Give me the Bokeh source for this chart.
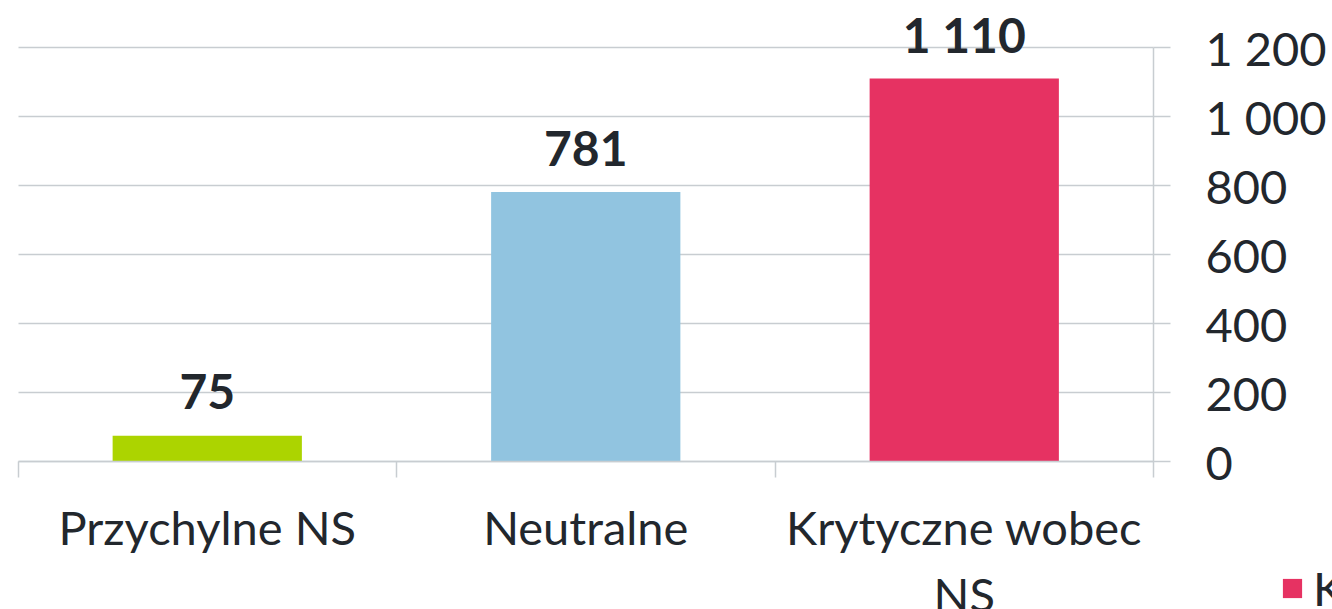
from bokeh.plotting import figure
from bokeh.models import (Range1d, LinearAxis, FixedTicker, CustomJSTickFormatter,
                          ColumnDataSource, Legend, LegendItem)
from bokeh.core.properties import value
from bokeh.embed import file_html
from bokeh.resources import INLINE

# ---- data ----
categories = ["Przychylne NS", "Neutralne", "Krytyczne wobec NS"]
display_labels = ["Przychylne NS", "Neutralne", "Krytyczne wobec\nNS"]
values = [75, 781, 1110]
value_labels = ["75", "781", "1 110"]
bar_colors = ["#acd400", "#91c4e0", "#e63262"]
y_ticks = [0, 200, 400, 600, 800, 1000, 1200]
legend_label = "Krytyczne wobec NS"

FONT = "Lato"
TEXT = "#22272d"
GRID = "#c8cdd1"
FS = "47px"

# ---- layout (pixels) ----
W, H = 1332, 609
PLOT_L, PLOT_R = 17.5, 1153.0        # category area in canvas px
Y0_PX, YMAX_PX = 461.0, 47.0          # value 0 and top tick in canvas px

n = len(categories)
cat_px = (PLOT_R - PLOT_L) / n
x_start = -PLOT_L / cat_px
x_end = n + (W - PLOT_R) / cat_px
ppu = (Y0_PX - YMAX_PX) / y_ticks[-1]
y_end = y_ticks[-1] + YMAX_PX / ppu
y_start = -(H - Y0_PX) / ppu

centers = [i + 0.5 for i in range(n)]
bounds_x = [float(i) for i in range(n + 1)]

p = figure(width=W, height=H, x_range=Range1d(x_start, x_end), y_range=Range1d(y_start, y_end),
           output_backend="svg", toolbar_location=None,
           min_border=0, y_axis_location=None, x_axis_location=None)
p.outline_line_color = None
p.background_fill_color = "white"
p.border_fill_color = "white"

src = ColumnDataSource(dict(x=centers, val=values, col=bar_colors, vlab=value_labels, cat=categories))

bars = p.vbar(x="x", top="val", bottom=0, width=0.5, fill_color="col", line_color=None, source=src)

# gridlines
p.xgrid.grid_line_color = None
p.ygrid.ticker = FixedTicker(ticks=y_ticks)
p.ygrid.grid_line_color = GRID
p.ygrid.grid_line_width = 1.5
p.ygrid.cross_bounds = (bounds_x[0], bounds_x[-1])

# right value axis, fixed at the right edge of the category area
ax = LinearAxis(ticker=FixedTicker(ticks=y_ticks), bounds=(y_ticks[0], y_ticks[-1]), fixed_location=bounds_x[-1])
ax.formatter = CustomJSTickFormatter(code="return tick.toFixed(0).replace(/\\B(?=(\\d{3})+(?!\\d))/g, ' ');")
ax.axis_line_color = GRID
ax.axis_line_width = 1.5
ax.major_tick_line_color = GRID
ax.major_tick_line_width = 1.5
ax.major_tick_out = 17
ax.major_tick_in = 0
ax.minor_tick_line_color = None
ax.major_label_standoff = 35
ax.major_label_text_font = FONT
ax.major_label_text_font_size = FS
ax.major_label_text_color = TEXT
p.add_layout(ax, "right")

# category axis: baseline + boundary ticks
bx = LinearAxis(ticker=FixedTicker(ticks=bounds_x), bounds=(bounds_x[0], bounds_x[-1]), fixed_location=0)
bx.axis_line_color = GRID
bx.axis_line_width = 1.5
bx.major_tick_line_color = GRID
bx.major_tick_line_width = 1.5
bx.major_tick_out = 16
bx.major_tick_in = 0
bx.minor_tick_line_color = None
bx.major_label_text_color = None
p.add_layout(bx, "below")

# category labels
lx = LinearAxis(ticker=FixedTicker(ticks=centers), fixed_location=0,
                major_label_overrides={c: lab for c, lab in zip(centers, display_labels)})
lx.axis_line_color = None
lx.major_tick_line_color = None
lx.minor_tick_line_color = None
lx.major_tick_out = 0
lx.major_tick_in = 0
lx.major_label_standoff = 37
lx.major_label_text_font = FONT
lx.major_label_text_font_size = FS
lx.major_label_text_color = TEXT
lx.major_label_text_line_height = 1.2
p.add_layout(lx, "below")

# value labels above bars
p.text(x="x", y="val", text="vlab", source=src, y_offset=-44,
       text_align="center", text_baseline="alphabetic",
       text_font=value(FONT), text_font_style="bold", text_font_size="48px", text_color=TEXT)

legend = Legend(items=[LegendItem(label=legend_label, renderers=[bars], index=2)],
                location=(1280, -7), orientation="horizontal")
legend.padding = 0
legend.margin = 0
legend.spacing = 0
legend.border_line_color = None
legend.background_fill_alpha = 0
legend.glyph_width = 24
legend.glyph_height = 24
legend.label_standoff = 9
legend.label_text_font = FONT
legend.label_text_font_size = FS
legend.label_text_color = TEXT
legend.label_text_baseline = "alphabetic"
p.add_layout(legend, "center")

open("out.html", "w").write(file_html(p, INLINE))
